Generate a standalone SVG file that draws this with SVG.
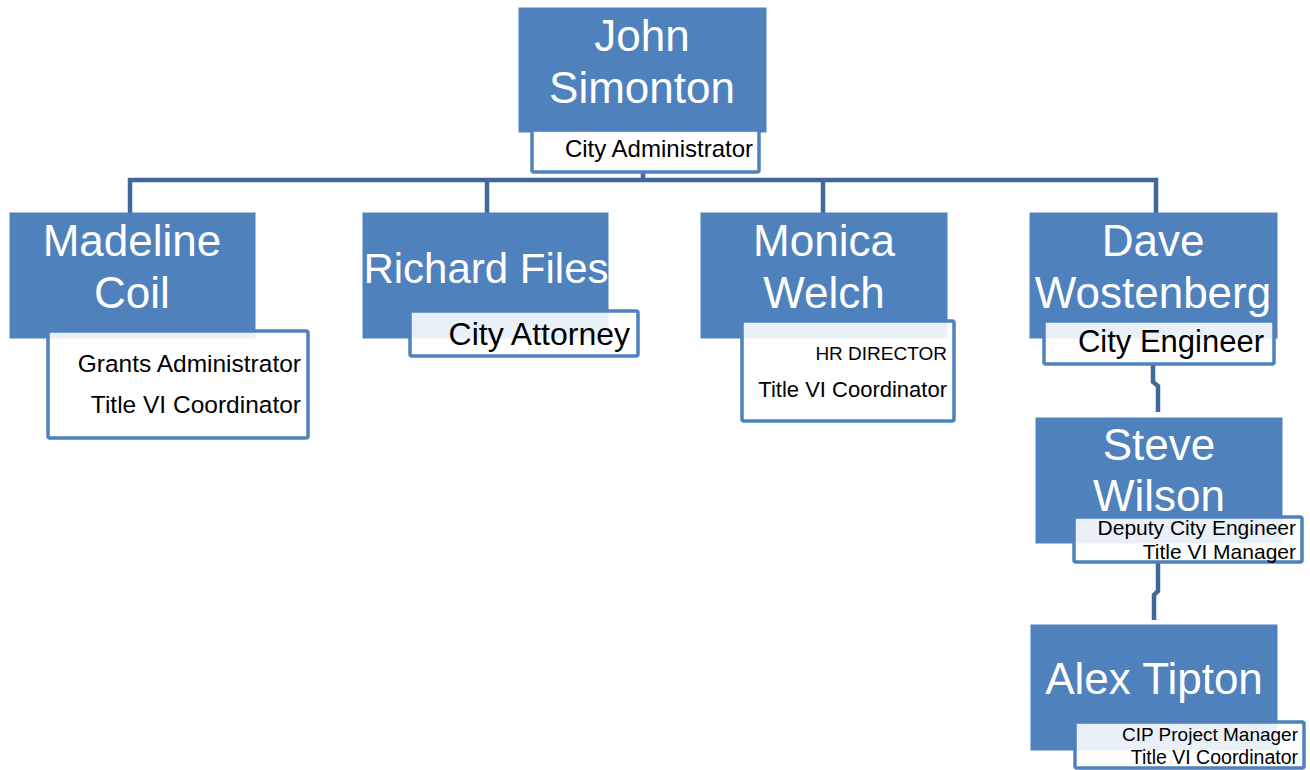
<svg xmlns="http://www.w3.org/2000/svg" width="1310" height="770" viewBox="0 0 1310 770">
<style>
.box{fill:#4F81BD;stroke:#4F81BD;stroke-width:1}
.tb{fill:#ffffff;fill-opacity:0.88;stroke:#4F81BD;stroke-width:3.5}
.name{font-family:"Liberation Sans",Arial,sans-serif;font-size:44px;fill:#ffffff;text-anchor:middle}
.t{font-family:"Liberation Sans",Arial,sans-serif;fill:#000000;text-anchor:end}
.conn{fill:none;stroke:#41689B;stroke-width:4.5}
</style>
<rect width="1310" height="770" fill="#ffffff"/>
<g id="connectors">
<path class="conn" d="M643,172 V180 M130,213 V180 H1156 V213 M487,180 V213 M823,180 V213"/>
<path class="conn" d="M1153,364 V382 L1158,386 V412"/>
<path class="conn" d="M1158,562 V591 L1154,595 V620"/>
</g>
<g id="john">
<rect class="box" x="519" y="8" width="247" height="124"/>
<text class="name" x="642" y="51">John</text>
<text class="name" x="642" y="103">Simonton</text>
<rect class="tb" x="532" y="130" width="227" height="42" rx="2"/>
<text class="t" x="753" y="157" font-size="24">City Administrator</text>
</g>
<g id="madeline">
<rect class="box" x="10" y="213" width="245" height="125"/>
<text class="name" x="132" y="256">Madeline</text>
<text class="name" x="132" y="308">Coil</text>
<rect class="tb" x="48" y="331" width="260" height="107" rx="2"/>
<text class="t" x="301" y="372" font-size="24.5">Grants Administrator</text>
<text class="t" x="301" y="413" font-size="24.5">Title VI Coordinator</text>
</g>
<g id="richard">
<rect class="box" x="363" y="213" width="245" height="125"/>
<text class="name" x="486" y="283" style="font-size:42px">Richard Files</text>
<rect class="tb" x="410" y="311" width="228" height="45" rx="2"/>
<text class="t" x="630" y="345" font-size="32">City Attorney</text>
</g>
<g id="monica">
<rect class="box" x="701" y="213" width="246" height="125"/>
<text class="name" x="824" y="256">Monica</text>
<text class="name" x="824" y="308">Welch</text>
<rect class="tb" x="742" y="321" width="212" height="100" rx="2"/>
<text class="t" x="947" y="360" font-size="19">HR DIRECTOR</text>
<text class="t" x="947" y="397" font-size="22">Title VI Coordinator</text>
</g>
<g id="dave">
<rect class="box" x="1030" y="213" width="247" height="125"/>
<text class="name" x="1153" y="256">Dave</text>
<text class="name" x="1153" y="308">Wostenberg</text>
<rect class="tb" x="1044" y="321" width="230" height="43" rx="2"/>
<text class="t" x="1264" y="352" font-size="31">City Engineer</text>
</g>
<g id="steve">
<rect class="box" x="1036" y="418" width="246" height="125"/>
<text class="name" x="1159" y="460">Steve</text>
<text class="name" x="1159" y="511">Wilson</text>
<rect class="tb" x="1074" y="517" width="228" height="45" rx="2"/>
<text class="t" x="1296" y="535" font-size="21">Deputy City Engineer</text>
<text class="t" x="1296" y="559" font-size="21">Title VI Manager</text>
</g>
<g id="alex">
<rect class="box" x="1031" y="625" width="246" height="125"/>
<text class="name" x="1154" y="694">Alex Tipton</text>
<rect class="tb" x="1075" y="722" width="229" height="46" rx="2"/>
<text class="t" x="1298" y="741" font-size="19">CIP Project Manager</text>
<text class="t" x="1298" y="764" font-size="19.5">Title VI Coordinator</text>
</g>
</svg>
